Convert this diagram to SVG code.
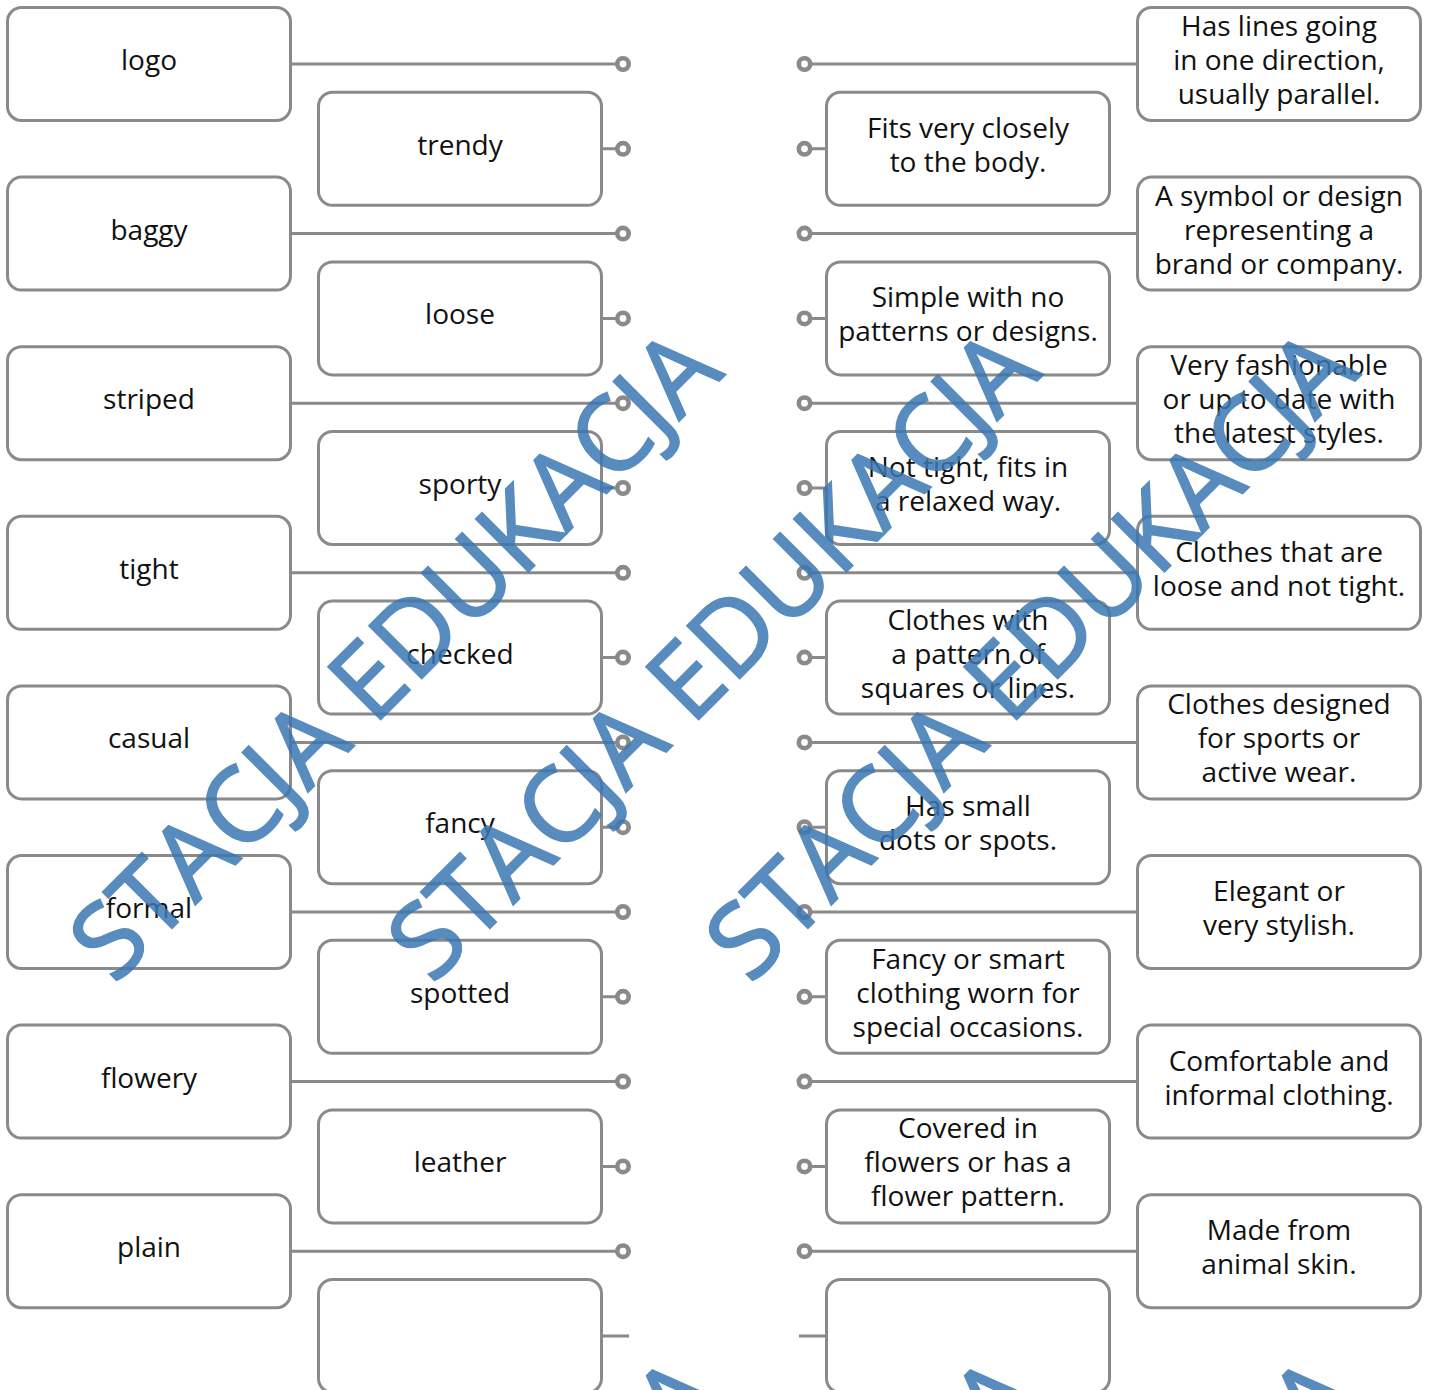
<svg xmlns="http://www.w3.org/2000/svg" width="1430" height="1390" viewBox="0 0 1430 1390">
<style>
.box{fill:#fff;stroke:#8a8a8a;stroke-width:3}
.t{font-family:"Open Sans","Liberation Sans",sans-serif;font-size:28px;fill:#111;text-anchor:middle}
.ln{stroke:#8a8a8a;stroke-width:3;fill:none}
.dot{fill:#fff;stroke:#8a8a8a;stroke-width:4.6}
.wm{font-family:"Open Sans","Liberation Sans",sans-serif;font-size:104px;fill:#3b78b3;stroke:#3b78b3;stroke-width:2;opacity:0.85;text-anchor:middle}
</style>
<rect width="1430" height="1390" fill="#fff"/>
<g id="connectors">
<path class="ln" d="M290.5 64H623M290.5 233.6H623M290.5 403.2H623M290.5 572.8H623M290.5 742.4H623M290.5 912H623M290.5 1081.6H623M290.5 1251.2H623"/>
<path class="ln" d="M601.5 148.8H623M601.5 318.4H623M601.5 488H623M601.5 657.6H623M601.5 827.2H623M601.5 996.8H623M601.5 1166.4H623M601.5 1336H629"/>
<path class="ln" d="M804.5 148.8H826.5M804.5 318.4H826.5M804.5 488H826.5M804.5 657.6H826.5M804.5 827.2H826.5M804.5 996.8H826.5M804.5 1166.4H826.5M799 1336H826.5"/>
<path class="ln" d="M804.5 64H1137.5M804.5 233.6H1137.5M804.5 403.2H1137.5M804.5 572.8H1137.5M804.5 742.4H1137.5M804.5 912H1137.5M804.5 1081.6H1137.5M804.5 1251.2H1137.5"/>
<g class="dot">
<circle cx="623" cy="64" r="5.7"/><circle cx="623" cy="233.6" r="5.7"/><circle cx="623" cy="403.2" r="5.7"/><circle cx="623" cy="572.8" r="5.7"/><circle cx="623" cy="742.4" r="5.7"/><circle cx="623" cy="912" r="5.7"/><circle cx="623" cy="1081.6" r="5.7"/><circle cx="623" cy="1251.2" r="5.7"/>
<circle cx="623" cy="148.8" r="5.7"/><circle cx="623" cy="318.4" r="5.7"/><circle cx="623" cy="488" r="5.7"/><circle cx="623" cy="657.6" r="5.7"/><circle cx="623" cy="827.2" r="5.7"/><circle cx="623" cy="996.8" r="5.7"/><circle cx="623" cy="1166.4" r="5.7"/>
<circle cx="804.5" cy="64" r="5.7"/><circle cx="804.5" cy="233.6" r="5.7"/><circle cx="804.5" cy="403.2" r="5.7"/><circle cx="804.5" cy="572.8" r="5.7"/><circle cx="804.5" cy="742.4" r="5.7"/><circle cx="804.5" cy="912" r="5.7"/><circle cx="804.5" cy="1081.6" r="5.7"/><circle cx="804.5" cy="1251.2" r="5.7"/>
<circle cx="804.5" cy="148.8" r="5.7"/><circle cx="804.5" cy="318.4" r="5.7"/><circle cx="804.5" cy="488" r="5.7"/><circle cx="804.5" cy="657.6" r="5.7"/><circle cx="804.5" cy="827.2" r="5.7"/><circle cx="804.5" cy="996.8" r="5.7"/><circle cx="804.5" cy="1166.4" r="5.7"/>
</g>
</g>
<!-- left outer column -->
<g id="n-logo"><rect class="box" x="7.5" y="7.5" width="283" height="113" rx="14"/><text class="t" x="149" y="70">logo</text></g>
<g id="n-baggy"><rect class="box" x="7.5" y="177.1" width="283" height="113" rx="14"/><text class="t" x="149" y="239.6">baggy</text></g>
<g id="n-striped"><rect class="box" x="7.5" y="346.7" width="283" height="113" rx="14"/><text class="t" x="149" y="409.2">striped</text></g>
<g id="n-tight"><rect class="box" x="7.5" y="516.3" width="283" height="113" rx="14"/><text class="t" x="149" y="578.8">tight</text></g>
<g id="n-casual"><rect class="box" x="7.5" y="685.9" width="283" height="113" rx="14"/><text class="t" x="149" y="748.4">casual</text></g>
<g id="n-formal"><rect class="box" x="7.5" y="855.5" width="283" height="113" rx="14"/><text class="t" x="149" y="918">formal</text></g>
<g id="n-flowery"><rect class="box" x="7.5" y="1025.1" width="283" height="113" rx="14"/><text class="t" x="149" y="1087.6">flowery</text></g>
<g id="n-plain"><rect class="box" x="7.5" y="1194.7" width="283" height="113" rx="14"/><text class="t" x="149" y="1257.2">plain</text></g>
<!-- left middle column -->
<g id="n-trendy"><rect class="box" x="318.5" y="92.3" width="283" height="113" rx="14"/><text class="t" x="460" y="154.8">trendy</text></g>
<g id="n-loose"><rect class="box" x="318.5" y="261.9" width="283" height="113" rx="14"/><text class="t" x="460" y="324.4">loose</text></g>
<g id="n-sporty"><rect class="box" x="318.5" y="431.5" width="283" height="113" rx="14"/><text class="t" x="460" y="494">sporty</text></g>
<g id="n-checked"><rect class="box" x="318.5" y="601.1" width="283" height="113" rx="14"/><text class="t" x="460" y="663.6">checked</text></g>
<g id="n-fancy"><rect class="box" x="318.5" y="770.7" width="283" height="113" rx="14"/><text class="t" x="460" y="833.2">fancy</text></g>
<g id="n-spotted"><rect class="box" x="318.5" y="940.3" width="283" height="113" rx="14"/><text class="t" x="460" y="1002.8">spotted</text></g>
<g id="n-leather"><rect class="box" x="318.5" y="1109.9" width="283" height="113" rx="14"/><text class="t" x="460" y="1172.4">leather</text></g>
<g id="n-blank-left"><rect class="box" x="318.5" y="1279.5" width="283" height="113" rx="14"/></g>
<!-- right middle column -->
<g id="d-fits"><rect class="box" x="826.5" y="92.3" width="283" height="113" rx="14"/><text class="t" x="968" y="137.8">Fits very closely</text><text class="t" x="968" y="171.8">to the body.</text></g>
<g id="d-simple"><rect class="box" x="826.5" y="261.9" width="283" height="113" rx="14"/><text class="t" x="968" y="307.4">Simple with no</text><text class="t" x="968" y="341.4">patterns or designs.</text></g>
<g id="d-nottight"><rect class="box" x="826.5" y="431.5" width="283" height="113" rx="14"/><text class="t" x="968" y="477">Not tight, fits in</text><text class="t" x="968" y="511">a relaxed way.</text></g>
<g id="d-squares"><rect class="box" x="826.5" y="601.1" width="283" height="113" rx="14"/><text class="t" x="968" y="629.6">Clothes with</text><text class="t" x="968" y="663.6">a pattern of</text><text class="t" x="968" y="697.6">squares or lines.</text></g>
<g id="d-dots"><rect class="box" x="826.5" y="770.7" width="283" height="113" rx="14"/><text class="t" x="968" y="816.2">Has small</text><text class="t" x="968" y="850.2">dots or spots.</text></g>
<g id="d-smart"><rect class="box" x="826.5" y="940.3" width="283" height="113" rx="14"/><text class="t" x="968" y="968.8">Fancy or smart</text><text class="t" x="968" y="1002.8">clothing worn for</text><text class="t" x="968" y="1036.8">special occasions.</text></g>
<g id="d-flowers"><rect class="box" x="826.5" y="1109.9" width="283" height="113" rx="14"/><text class="t" x="968" y="1138.4">Covered in</text><text class="t" x="968" y="1172.4">flowers or has a</text><text class="t" x="968" y="1206.4">flower pattern.</text></g>
<g id="d-blank-right"><rect class="box" x="826.5" y="1279.5" width="283" height="113" rx="14"/></g>
<!-- right outer column -->
<g id="d-lines"><rect class="box" x="1137.5" y="7.5" width="283" height="113" rx="14"/><text class="t" x="1279" y="36">Has lines going</text><text class="t" x="1279" y="70">in one direction,</text><text class="t" x="1279" y="104">usually parallel.</text></g>
<g id="d-symbol"><rect class="box" x="1137.5" y="177.1" width="283" height="113" rx="14"/><text class="t" x="1279" y="205.6">A symbol or design</text><text class="t" x="1279" y="239.6">representing a</text><text class="t" x="1279" y="273.6">brand or company.</text></g>
<g id="d-fashion"><rect class="box" x="1137.5" y="346.7" width="283" height="113" rx="14"/><text class="t" x="1279" y="375.2">Very fashionable</text><text class="t" x="1279" y="409.2">or up to date with</text><text class="t" x="1279" y="443.2">the latest styles.</text></g>
<g id="d-loose"><rect class="box" x="1137.5" y="516.3" width="283" height="113" rx="14"/><text class="t" x="1279" y="561.8">Clothes that are</text><text class="t" x="1279" y="595.8">loose and not tight.</text></g>
<g id="d-sports"><rect class="box" x="1137.5" y="685.9" width="283" height="113" rx="14"/><text class="t" x="1279" y="714.4">Clothes designed</text><text class="t" x="1279" y="748.4">for sports or</text><text class="t" x="1279" y="782.4">active wear.</text></g>
<g id="d-elegant"><rect class="box" x="1137.5" y="855.5" width="283" height="113" rx="14"/><text class="t" x="1279" y="901">Elegant or</text><text class="t" x="1279" y="935">very stylish.</text></g>
<g id="d-comfort"><rect class="box" x="1137.5" y="1025.1" width="283" height="113" rx="14"/><text class="t" x="1279" y="1070.6">Comfortable and</text><text class="t" x="1279" y="1104.6">informal clothing.</text></g>
<g id="d-skin"><rect class="box" x="1137.5" y="1194.7" width="283" height="113" rx="14"/><text class="t" x="1279" y="1240.2">Made from</text><text class="t" x="1279" y="1274.2">animal skin.</text></g>
<!-- watermark -->
<g id="watermark">
<text class="wm" transform="translate(420,680) rotate(-45)">STACJA EDUKACJA</text>
<text class="wm" transform="translate(738,680) rotate(-45)">STACJA EDUKACJA</text>
<text class="wm" transform="translate(1056,680) rotate(-45)">STACJA EDUKACJA</text>
<text class="wm" transform="translate(420,1708) rotate(-45)">STACJA EDUKACJA</text>
<text class="wm" transform="translate(738,1708) rotate(-45)">STACJA EDUKACJA</text>
<text class="wm" transform="translate(1056,1708) rotate(-45)">STACJA EDUKACJA</text>
</g>
</svg>
